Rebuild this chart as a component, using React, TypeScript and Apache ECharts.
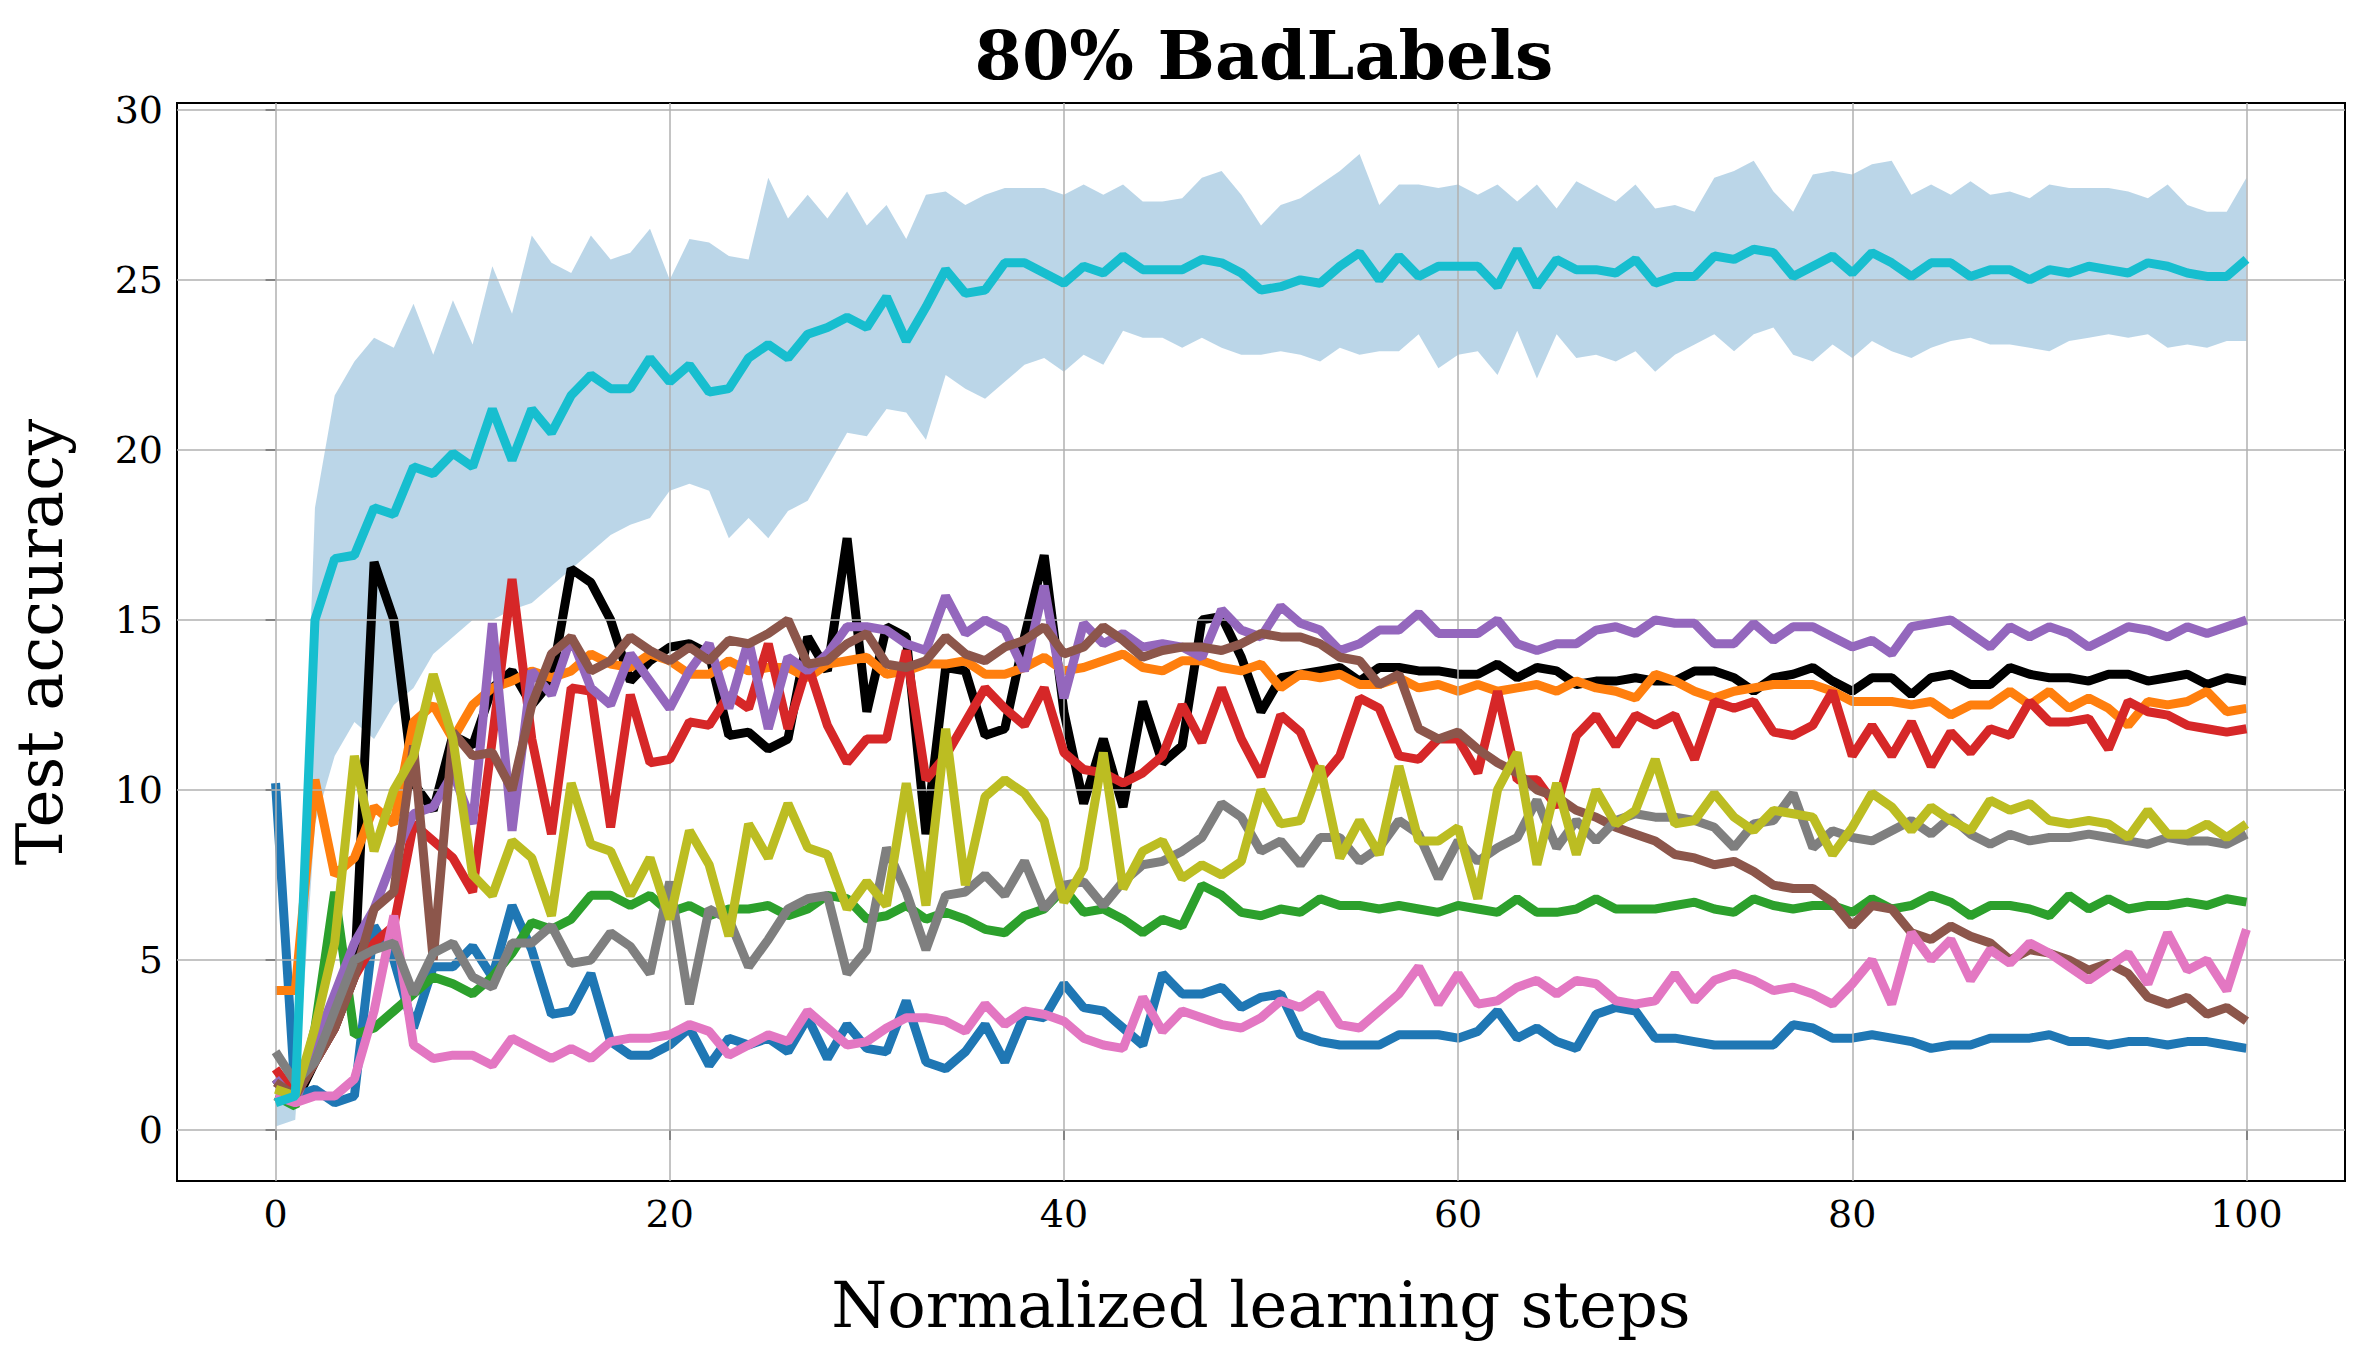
import React, { useEffect, useRef } from "react";
import * as echarts from "echarts";

const steps: number[] = Array.from({ length: 101 }, (_, i) => i);
const xTicks = [0, 20, 40, 60, 80, 100];
const yTicks = [0, 5, 10, 15, 20, 25, 30];

const blue = [10.2,1,1.2,0.8,1,6,5,3,4.8,4.8,5.4,4.5,6.6,5.3,3.4,3.5,4.6,2.6,2.2,2.2,2.5,3,1.9,2.7,2.5,2.7,2.3,3.3,2.1,3.1,2.4,2.3,3.8,2,1.8,2.3,3.1,2,3.4,3.3,4.3,3.6,3.5,3,2.5,4.6,4,4,4.2,3.6,3.9,4,2.8,2.6,2.5,2.5,2.5,2.8,2.8,2.8,2.7,2.9,3.5,2.7,3,2.6,2.4,3.4,3.6,3.5,2.7,2.7,2.6,2.5,2.5,2.5,2.5,3.1,3,2.7,2.7,2.8,2.7,2.6,2.4,2.5,2.5,2.7,2.7,2.7,2.8,2.6,2.6,2.5,2.6,2.6,2.5,2.6,2.6,2.5,2.4];
const orange = [4.1,4.1,10.3,7.5,8,9.5,9,12,12.5,11.5,12.5,13,13.2,13.5,13.3,13.5,14,13.7,13.6,14,13.8,13.4,13.4,13.8,13.5,13.6,13.6,13.3,13.7,13.8,13.9,13.4,13.5,13.7,13.7,13.8,13.4,13.4,13.6,13.9,13.5,13.6,13.8,14,13.6,13.5,13.8,13.8,13.6,13.5,13.7,13,13.4,13.3,13.4,13.1,13.1,13.3,13,13.1,12.9,13.1,12.9,13,13.1,12.9,13.2,13,12.9,12.7,13.4,13.2,12.9,12.7,12.9,13,13.1,13.1,13.1,12.9,12.6,12.6,12.6,12.5,12.6,12.2,12.5,12.5,12.9,12.5,12.9,12.4,12.7,12.4,11.9,12.6,12.5,12.6,12.9,12.3,12.4];
const green = [1,0.7,3,7,2.8,3,3.5,4,4.5,4.3,4,4.5,5.2,6.1,5.9,6.2,6.9,6.9,6.6,6.9,6.4,6.6,6.3,6.5,6.5,6.6,6.3,6.5,6.9,6.8,6.2,6.3,6.6,6.2,6.4,6.2,5.9,5.8,6.3,6.5,7.1,6.4,6.5,6.2,5.8,6.2,6,7.2,6.9,6.4,6.3,6.5,6.4,6.8,6.6,6.6,6.5,6.6,6.5,6.4,6.6,6.5,6.4,6.8,6.4,6.4,6.5,6.8,6.5,6.5,6.5,6.6,6.7,6.5,6.4,6.8,6.6,6.5,6.6,6.6,6.4,6.8,6.5,6.6,6.9,6.7,6.3,6.6,6.6,6.5,6.3,6.9,6.5,6.8,6.5,6.6,6.6,6.7,6.6,6.8,6.7];
const red = [1.8,1,2,3,4.5,5.5,6,9,8.5,8,7,11.5,16.2,11.5,8.7,13,12.9,8.9,12.8,10.8,10.9,12,11.9,12.8,12.4,14.3,11.8,13.7,11.9,10.8,11.5,11.5,14.1,10.3,11,12,13,12.4,11.9,13,11.1,10.6,10.5,10.2,10.5,11,12.5,11.4,13,11.5,10.4,12.2,11.7,10.3,11,12.7,12.4,11,10.9,11.5,11.5,10.5,12.9,10.3,10.3,9.5,11.6,12.2,11.3,12.2,11.9,12.2,10.9,12.6,12.4,12.6,11.7,11.6,11.9,12.9,11,11.9,11,12,10.7,11.7,11.1,11.8,11.6,12.6,12,12,12.1,11.2,12.6,12.3,12.2,11.9,11.8,11.7,11.8];
const purple = [1.5,0.8,2.5,4,5.5,6.5,8,9.3,9.5,10.5,9,14.9,8.8,13.5,12.8,14.5,13,12.5,14,13.2,12.4,13.5,14.3,12.4,14.4,11.8,13.9,13.5,14,14.8,14.8,14.7,14.3,14.1,15.7,14.6,15,14.7,13.5,16,12.7,14.9,14.3,14.6,14.2,14.3,14.2,13.9,15.3,14.7,14.5,15.4,14.9,14.7,14.1,14.3,14.7,14.7,15.2,14.6,14.6,14.6,15,14.3,14.1,14.3,14.3,14.7,14.8,14.6,15,14.9,14.9,14.3,14.3,14.9,14.4,14.8,14.8,14.5,14.2,14.4,14,14.8,14.9,15,14.6,14.2,14.8,14.5,14.8,14.6,14.2,14.5,14.8,14.7,14.5,14.8,14.6,14.8,15];
const brown = [1.4,1,2,3,4.5,6.5,7,11.3,5,11.7,11,11.1,10,12.5,14,14.5,13.5,13.8,14.5,14.1,13.8,14.2,13.8,14.4,14.3,14.6,15,13.7,13.8,14.3,14.6,13.7,13.6,13.8,14.5,14,13.8,14.2,14.4,14.8,14,14.2,14.8,14.4,13.9,14.1,14.2,14.2,14.1,14.3,14.6,14.5,14.5,14.3,13.9,13.8,13.1,13.4,11.8,11.5,11.7,11.2,10.8,10.5,10,9.8,9.4,9.2,8.9,8.7,8.5,8.1,8,7.8,7.9,7.6,7.2,7.1,7.1,6.7,6,6.6,6.5,5.8,5.6,6,5.7,5.5,5,5.3,5.2,5,4.7,4.9,4.6,3.9,3.7,3.9,3.4,3.6,3.2];
const pink = [1,0.8,1,1,1.5,3.5,6.3,2.5,2.1,2.2,2.2,1.9,2.7,2.4,2.1,2.4,2.1,2.6,2.7,2.7,2.8,3.1,2.9,2.2,2.5,2.8,2.6,3.5,3,2.5,2.6,3,3.3,3.3,3.2,2.9,3.7,3.1,3.5,3.4,3.2,2.7,2.5,2.4,3.9,2.9,3.5,3.3,3.1,3,3.3,3.8,3.6,4,3.1,3,3.5,4,4.8,3.7,4.6,3.7,3.8,4.2,4.4,4,4.4,4.3,3.8,3.7,3.8,4.6,3.8,4.4,4.6,4.4,4.1,4.2,4,3.7,4.3,5,3.7,5.8,5,5.6,4.4,5.3,4.9,5.5,5.2,4.8,4.4,4.8,5.2,4.3,5.8,4.7,5,4.1,5.9];
const gray = [2.3,1.4,2,3.5,5,5.3,5.5,4,5.2,5.5,4.5,4.2,5.5,5.5,6,4.9,5,5.8,5.4,4.6,7.3,3.7,6.5,6.2,4.8,5.6,6.5,6.8,6.9,4.6,5.3,8.3,7,5.3,6.9,7,7.5,6.9,7.9,6.5,7.2,7.3,6.6,7.3,7.8,7.9,8.2,8.6,9.6,9.2,8.2,8.5,7.8,8.6,8.6,7.9,8.3,9.1,8.7,7.4,8.5,7.9,8.3,8.6,9.7,8.3,9.1,8.5,9.1,9.3,9.2,9.2,9.1,8.9,8.3,9,9.1,9.9,8.3,8.8,8.6,8.5,8.8,9.1,8.7,9.2,8.7,8.4,8.7,8.5,8.6,8.6,8.7,8.6,8.5,8.4,8.6,8.5,8.5,8.4,8.7];
const olive = [1.2,1,3,5.5,11,8.2,10,11,13.4,11.5,7.5,6.9,8.5,8,6.3,10.2,8.4,8.2,6.9,8,6.2,8.8,7.8,5.7,9,8,9.6,8.3,8.1,6.5,7.3,6.6,10.2,6.6,11.8,7.2,9.8,10.3,9.9,9.1,6.7,7.7,11.1,7.1,8.2,8.5,7.4,7.8,7.5,7.9,10,9,9.1,10.7,8,9.1,8.1,10.7,8.5,8.5,8.9,6.8,10,11.1,7.8,10.2,8.1,10,9,9.4,10.9,9,9.1,9.9,9.2,8.8,9.4,9.3,9.2,8.1,8.9,9.9,9.5,8.8,9.5,9.1,8.8,9.7,9.4,9.6,9.1,9,9.1,9,8.6,9.4,8.7,8.7,9,8.6,9];
const cyan = [0.8,1,15,16.8,16.9,18.3,18.1,19.5,19.3,19.9,19.5,21.2,19.7,21.2,20.5,21.6,22.2,21.8,21.8,22.7,22,22.5,21.7,21.8,22.7,23.1,22.7,23.4,23.6,23.9,23.6,24.5,23.2,24.2,25.3,24.6,24.7,25.5,25.5,25.2,24.9,25.4,25.2,25.7,25.3,25.3,25.3,25.6,25.5,25.2,24.7,24.8,25,24.9,25.4,25.8,25,25.7,25.1,25.4,25.4,25.4,24.8,25.9,24.8,25.6,25.3,25.3,25.2,25.6,24.9,25.1,25.1,25.7,25.6,25.9,25.8,25.1,25.4,25.7,25.2,25.8,25.5,25.1,25.5,25.5,25.1,25.3,25.3,25,25.3,25.2,25.4,25.3,25.2,25.5,25.4,25.2,25.1,25.1,25.6];
const black = [1.5,0.8,2,3,4.5,16.7,15,10.2,9.4,11.6,11.3,13,13.5,12.5,13.2,16.5,16.1,15,13.2,13.8,14.2,14.3,14,11.6,11.7,11.2,11.5,14.5,13.5,17.4,12.3,14.8,14.5,8.7,13.6,13.5,11.6,11.8,14.5,16.9,12.3,9.6,11.5,9.5,12.6,10.8,11.3,15,15.1,13.9,12.3,13.3,13.4,13.5,13.6,13.2,13.6,13.6,13.5,13.5,13.4,13.4,13.7,13.3,13.6,13.5,13.1,13.2,13.2,13.3,13.2,13.2,13.5,13.5,13.3,12.9,13.3,13.4,13.6,13.2,12.9,13.3,13.3,12.8,13.3,13.4,13.1,13.1,13.6,13.4,13.3,13.3,13.2,13.4,13.4,13.2,13.3,13.4,13.1,13.3,13.2];
const bandUpper = [1.5,2,18.3,21.6,22.6,23.3,23,24.3,22.8,24.4,23.1,25.4,24,26.3,25.5,25.2,26.3,25.6,25.8,26.5,25,26.2,26.1,25.7,25.6,28,26.8,27.5,26.8,27.6,26.6,27.2,26.2,27.5,27.6,27.2,27.5,27.7,27.7,27.7,27.5,27.8,27.5,27.8,27.3,27.3,27.4,28,28.2,27.5,26.6,27.2,27.4,27.8,28.2,28.7,27.2,27.8,27.8,27.7,27.8,27.5,27.8,27.3,27.8,27.1,27.9,27.6,27.3,27.8,27.1,27.2,27,28,28.2,28.5,27.6,27,28.1,28.2,28.1,28.4,28.5,27.5,27.8,27.5,27.9,27.5,27.6,27.4,27.8,27.7,27.7,27.7,27.6,27.4,27.8,27.2,27,27,28];
const bandLower = [0.1,0.3,9,11,12,11.5,12.5,13,14,14.5,15,15,15.3,15.5,16,16.5,17,17.5,17.8,18,18.8,19,18.8,17.4,18,17.4,18.2,18.5,19.5,20.5,20.4,21.2,21.1,20.3,22.2,21.8,21.5,22,22.5,22.7,22.3,22.8,22.5,23.5,23.3,23.3,23,23.3,23,22.8,22.8,22.9,22.8,22.6,23,22.8,22.9,22.9,23.4,22.4,22.8,22.9,22.2,23.5,22.1,23.4,22.7,22.8,22.6,22.9,22.3,22.8,23.1,23.4,22.9,23.4,23.6,22.8,22.6,23.1,22.7,23.2,22.9,22.7,23,23.2,23.3,23.1,23.1,23,22.9,23.2,23.3,23.4,23.3,23.4,23,23.1,23,23.2,23.2];

const lines: [string, number[], string][] = [
  ["black", black, "#000000"],
  ["blue", blue, "#1f77b4"],
  ["orange", orange, "#ff7f0e"],
  ["green", green, "#2ca02c"],
  ["red", red, "#d62728"],
  ["purple", purple, "#9467bd"],
  ["brown", brown, "#8c564b"],
  ["pink", pink, "#e377c2"],
  ["gray", gray, "#7f7f7f"],
  ["olive", olive, "#bcbd22"],
  ["cyan", cyan, "#17becf"],
];

const FONT = "DejaVu Serif";

export default function App() {
  const ref = useRef<HTMLDivElement>(null);
  useEffect(() => {
    const chart = echarts.init(ref.current!, null, { renderer: "svg" });
    const pts = (arr: number[]) => arr.map((v, i) => [steps[i], v]);
    const gridLine = { color: "#b0b0b0", width: 1.5, type: "solid" as const };
    const bandData = steps.map((s, i) => [s, bandLower[i], bandUpper[i]]);
    const series: any[] = [
      {
        type: "line", name: "grid", data: [], silent: true, z: 0,
        markLine: {
          silent: true, symbol: "none", label: { show: false }, lineStyle: gridLine, animation: false,
          data: [...xTicks.map((x) => ({ xAxis: x })), ...yTicks.map((y) => ({ yAxis: y }))],
        },
      },
      {
        type: "custom", name: "band", data: bandData, z: 1, silent: true,
        encode: { x: 0, y: [1, 2] },
        renderItem: (params: any, api: any) => {
          if (params.dataIndex !== 0) return null;
          const upper = bandData.map((d) => api.coord([d[0], d[2]]));
          const lower = bandData.map((d) => api.coord([d[0], d[1]])).reverse();
          return {
            type: "polygon",
            shape: { points: upper.concat(lower) },
            style: { fill: "rgba(31,119,180,0.3)", stroke: "none" },
          };
        },
      },
      ...lines.map(([n, arr, c], k) => ({
        type: "line", name: n, data: pts(arr), symbol: "none", z: 2 + k,
        lineStyle: { color: c, width: 9 }, itemStyle: { color: c },
      })),
    ];
    chart.setOption({
      animation: false,
      title: {
        text: "80% BadLabels", left: 1259, top: 16, textAlign: "center",
        textStyle: { fontFamily: FONT, fontWeight: "bold", fontSize: 68, color: "#000" },
      },
      grid: { left: 173, right: 20, top: 103, bottom: 175, show: true, borderColor: "#000", borderWidth: 2 },
      xAxis: {
        type: "value", min: -5, max: 105,
        name: "Normalized learning steps", nameLocation: "middle", nameGap: 92,
        nameTextStyle: { fontFamily: FONT, fontSize: 64, color: "#000" },
        axisLine: { show: false },
        axisTick: { show: true, customValues: xTicks, length: 10, lineStyle: { color: "#000", width: 2 } },
        axisLabel: { customValues: xTicks, fontFamily: FONT, fontSize: 38, color: "#000", margin: 14 },
        splitLine: { show: false },
      },
      yAxis: {
        type: "value", min: -1.5, max: 30.2,
        name: "Test accuracy", nameLocation: "middle", nameGap: 105,
        nameTextStyle: { fontFamily: FONT, fontSize: 64, color: "#000" },
        axisLine: { show: false },
        axisTick: { show: true, customValues: yTicks, length: 10, lineStyle: { color: "#000", width: 2 } },
        axisLabel: { customValues: yTicks, fontFamily: FONT, fontSize: 38, color: "#000", margin: 14 },
        splitLine: { show: false },
      },
      series,
    });
    return () => chart.dispose();
  }, []);
  return <div ref={ref} style={{ position: "absolute", left: 0, top: 0, width: 2365, height: 1356 }} />;
}
